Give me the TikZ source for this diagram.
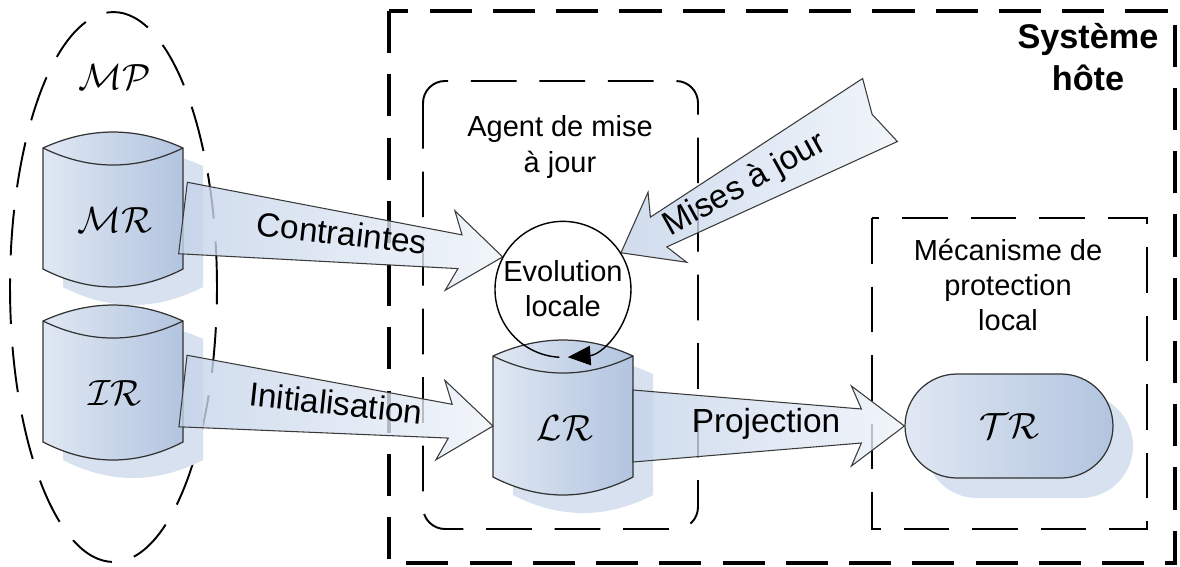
\documentclass[tikz,border=0pt]{standalone}
\usepackage{fontspec}
\setmainfont{Liberation Sans}
\usetikzlibrary{calc,arrows.meta}
\definecolor{bleuc}{HTML}{E0E8F3}
\definecolor{bleuf}{HTML}{B2C4DF}
\definecolor{ombre}{HTML}{D7E1EF}
\definecolor{flc}{HTML}{EEF3F9}
\definecolor{flf}{HTML}{C4D3E9}
\definecolor{trait}{HTML}{3A3A3A}
\tikzset{
  cadre/.style={draw=black,line width=2pt,dash pattern=on 24pt off 12pt},
  zone/.style={draw=black,line width=1.1pt,dash pattern=on 26pt off 13pt},
  titre/.style={font=\bfseries\fontsize{19.5}{24}\selectfont,align=center,inner sep=0pt},
  etiq/.style={font=\fontsize{16.5}{20}\selectfont,align=center,inner sep=0pt},
  fltxt/.style={font=\fontsize{19}{22}\selectfont,inner sep=0pt},
  math/.style={font=\fontsize{20.74}{25}\selectfont,inner sep=0pt},
  fleche/.style={draw=trait,line width=0.6pt,fill opacity=0.8},
  boucle/.style={black,line width=0.8pt,-{Triangle[length=13pt,width=11pt]}},
  pilule/.style={draw=black!80,line width=0.7pt,minimum width=4.16cm,minimum height=2.08cm,
    rounded corners=1.04cm,left color=bleuc,right color=bleuf,font=\fontsize{20.74}{25}\selectfont},
  pics/cyl/.style={code={
    \fill[ombre,shift={(20,18)}] (0,16) .. controls (46.7,-5.3) and (93.3,-5.3) .. (140,16)
      -- (140,137) .. controls (93.3,161) and (46.7,161) .. (0,137) -- cycle;
    \shade[left color=bleuc,right color=bleuf,draw=black!80,line width=0.7pt]
      (0,16) .. controls (46.7,-5.3) and (93.3,-5.3) .. (140,16)
      -- (140,137) .. controls (93.3,161) and (46.7,161) .. (0,137) -- cycle;
    \draw[black!80,line width=0.7pt] (0,16) .. controls (46.7,38.7) and (93.3,38.7) .. (140,16);
    \node[math] (-c) at (72,88) {#1};
    \coordinate (-e) at (140,86);
    \coordinate (-w) at (0,86);
  }},
}
% fleche large : [creux] queue, pointe, remplissage
\newcommand{\flechebloc}[4][0cm]{%
  \coordinate (fj) at ($(#3)!0.86cm!(#2)$);
  \coordinate (fb) at ($(#3)!1.06cm!(#2)$);
  \path[fleche,#4] ($(#2)!0.72cm!90:(#3)$) -- ($(fj)!0.34cm!90:(#3)$)
    -- ($(fb)!0.8cm!90:(#3)$) -- (#3) -- ($(fb)!0.8cm!-90:(#3)$)
    -- ($(fj)!0.34cm!-90:(#3)$) -- ($(#2)!0.72cm!-90:(#3)$)
    -- ($(#2)!#1!(#3)$) -- cycle;
}

\begin{document}
\begin{tikzpicture}[x=0.02cm,y=-0.02cm]
  \useasboundingbox (0,0) rectangle (1180,566);
  % --- cadres ---
  \draw[cadre] (389,11) rectangle (1175,563);
  \draw[zone,rounded corners=0.44cm] (423,81) rectangle (698,529);
  \draw[zone] (872,218) rectangle (1147,529);
  \draw[zone] (113.5,287) ellipse [x radius=2.07cm,y radius=5.5cm];
  \node[titre] (sys) at (1088,57) {Système\\hôte};
  \node[etiq] (agent) at (560,147) {Agent de mise\\à jour};
  \node[etiq] (meca) at (1008,285) {Mécanisme de\\protection\\local};
  \node[math] (mp) at (115,77) {$\mathcal{MP}$};
  % --- bases ---
  \pic (mr) at (43,132) {cyl={$\mathcal{MR}$}};
  \pic (ir) at (43,305) {cyl={$\mathcal{IR}$}};
  \pic (lr) at (493,340) {cyl={$\mathcal{LR}$}};
  \fill[ombre,rounded corners=1.04cm] (925,394) rectangle (1133,498);
  \node[pilule] (tr) at (1009,426) {$\mathcal{TR}$};
  \node[circle,minimum size=2.72cm,etiq] (evo) at (563,289) {Evolution\\locale};
  \coordinate (maj) at (880,110);
  % --- fleches ---
  \flechebloc{mr-e}{evo.152}{left color=flf,right color=flc}
  \flechebloc{ir-e}{lr-w}{left color=flf,right color=flc}
  \flechebloc{lr-e}{tr.west}{left color=flf,right color=flc}
  \flechebloc[0.18cm]{maj}{evo.32}{left color=flf,right color=flc}
  \node[fltxt,rotate=-6.5] (ctr) at (342,233) {Contraintes};
  \node[fltxt,rotate=-6] (init) at (336,403) {Initialisation};
  \node[fltxt] (proj) at (766,424) {Projection};
  \node[fltxt,rotate=29] (miseaj) at (745,185) {Mises à jour};
  \draw[boucle] (evo.-93) arc[start angle=-93,end angle=-446,radius=1.36cm];
\end{tikzpicture}
\end{document}
